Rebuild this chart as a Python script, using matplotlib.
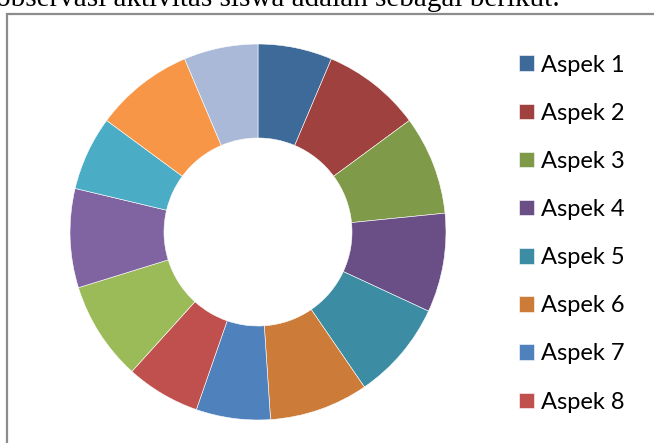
import matplotlib
matplotlib.use("Agg")
import matplotlib.pyplot as plt
from matplotlib.patches import Rectangle

# observation scores per aspect
labels = ["Aspek %d" % i for i in range(1, 14)]
scores = [3, 4, 4, 4, 4, 4, 3, 3, 4, 4, 3, 4, 3]
colors = ["#3E6A9A", "#9E413F", "#7F9A48", "#6A4F87", "#3C8DA3", "#CC7B38",
          "#4F81BD", "#C0504D", "#9BBB59", "#8064A2", "#4BACC6", "#F79646",
          "#AAB9D7"]
n_legend = 8  # legend rows that fit in the box

heading = "observasi aktivitas siswa adalah sebagai berikut:"

W, H = 654, 443
fig = plt.figure(figsize=(W / 100, H / 100), dpi=100)

# running text above the chart box
fig.text(-4 / W, 1 - 6.5 / H, heading, family="Liberation Serif",
         fontsize=21, va="baseline", ha="left", color="black")

# chart area frame (left and top edges)
fig.patches.append(Rectangle((7 / W, -0.1), 1.2, 1.1 - 14 / H,
                             transform=fig.transFigure, fill=False,
                             edgecolor="#8c8c8c", linewidth=1.6))

cx, cy, r = 258, H - 232, 188
ax = fig.add_axes([(cx - r) / W, (cy - r) / H, 2 * r / W, 2 * r / H])
wedges, _ = ax.pie(scores, colors=colors, radius=1, startangle=90,
                   counterclock=False,
                   wedgeprops=dict(width=0.5, edgecolor="white", linewidth=0.4))
ax.set_xlim(-1, 1)
ax.set_ylim(-1, 1)
ax.axis("off")

fig.legend(wedges[:n_legend], labels[:n_legend], loc="upper left",
           bbox_to_anchor=(519 / W, 1 - 54.5 / H),
           frameon=False, prop={"family": "Lato", "size": 17},
           handlelength=0.635, handleheight=0.635, handletextpad=0.3,
           labelspacing=1.15, borderaxespad=0, borderpad=0)

fig.savefig("out.png", dpi=100)
